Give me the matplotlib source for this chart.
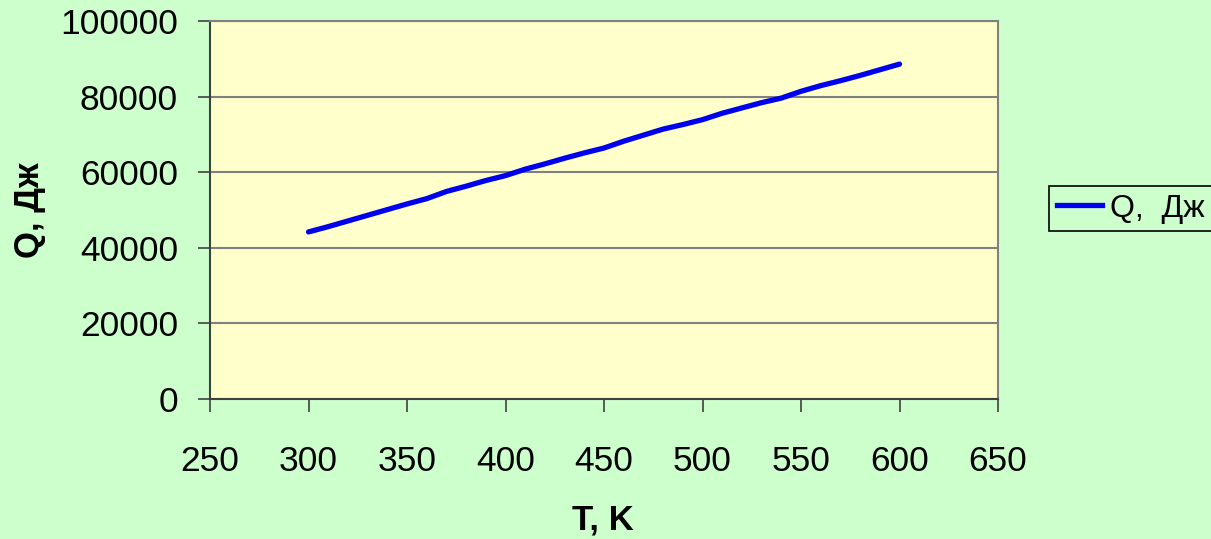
import matplotlib
matplotlib.use("Agg")
import matplotlib.pyplot as plt
from matplotlib.lines import Line2D

plt.rcParams['font.family'] = ['Liberation Sans', 'DejaVu Sans']

# Data
T_values = [300, 310, 320, 330, 340, 350, 360, 370, 380, 390, 400,
            410, 420, 430, 440, 450, 460, 470, 480, 490, 500,
            510, 520, 530, 540, 550, 560, 570, 580, 590, 600]
Q_values = [44200, 45600, 47100, 48600, 50100, 51600, 53000, 54900, 56300, 57800, 59100,
            60800, 62200, 63700, 65100, 66400, 68200, 69800, 71400, 72600, 73900,
            75600, 77000, 78400, 79600, 81400, 82900, 84200, 85600, 87100, 88600]
x_ticks = [250, 300, 350, 400, 450, 500, 550, 600, 650]
y_ticks = [0, 20000, 40000, 60000, 80000, 100000]
series_label = "Q,  Дж"
x_label = "T, K"
y_label = "Q, Дж"

W, H = 1211, 539
fig = plt.figure(figsize=(W / 100, H / 100), dpi=100)
fig.patch.set_facecolor('#CCFFCC')

ax = fig.add_axes([210 / W, (H - 399) / H, (998 - 210) / W, (399 - 21) / H])
ax.set_facecolor('#FFFFCC')
ax.plot(T_values, Q_values, color='#0000F0', lw=3.8, solid_capstyle='round',
        solid_joinstyle='round', label=series_label, zorder=3)

ax.set_xlim(250, 650)
ax.set_ylim(0, 100000)
ax.set_xticks(x_ticks)
ax.set_yticks(y_ticks)
ax.set_xticklabels([str(v) for v in x_ticks])
ax.set_yticklabels([str(v) for v in y_ticks])
ax.yaxis.grid(True, color='#808080', lw=1.5, zorder=1)
ax.set_axisbelow(True)

for s in ['top', 'right']:
    ax.spines[s].set_color('#808080')
    ax.spines[s].set_linewidth(1.5)
for s in ['left', 'bottom']:
    ax.spines[s].set_color('#404040')
    ax.spines[s].set_linewidth(1.5)

ax.tick_params(axis='y', direction='out', length=9, width=1.2, color='#404040',
               pad=14, labelsize=25.5)
ax.tick_params(axis='x', direction='out', length=9, width=1.2, color='#404040',
               pad=24, labelsize=25.5)

fig.text(603 / W, 1 - 520 / H, x_label, fontsize=25, fontweight='bold',
         ha='center', va='center')
fig.text(30 / W, 1 - 210 / H, y_label, fontsize=25, fontweight='bold',
         ha='center', va='center', rotation=90)

leg = fig.legend(handles=[Line2D([], [], color='#0000F0', lw=3.8)], labels=[series_label],
                 loc='center left', bbox_to_anchor=(1049 / W, 1 - 208.5 / H),
                 fontsize=23, frameon=True, fancybox=False, edgecolor='black',
                 facecolor='#CCFFCC', framealpha=1, borderpad=0.25,
                 handlelength=1.4, handletextpad=0.25, borderaxespad=0)
leg.get_frame().set_linewidth(1.2)

fig.savefig('out.png', dpi=100, facecolor=fig.get_facecolor())
